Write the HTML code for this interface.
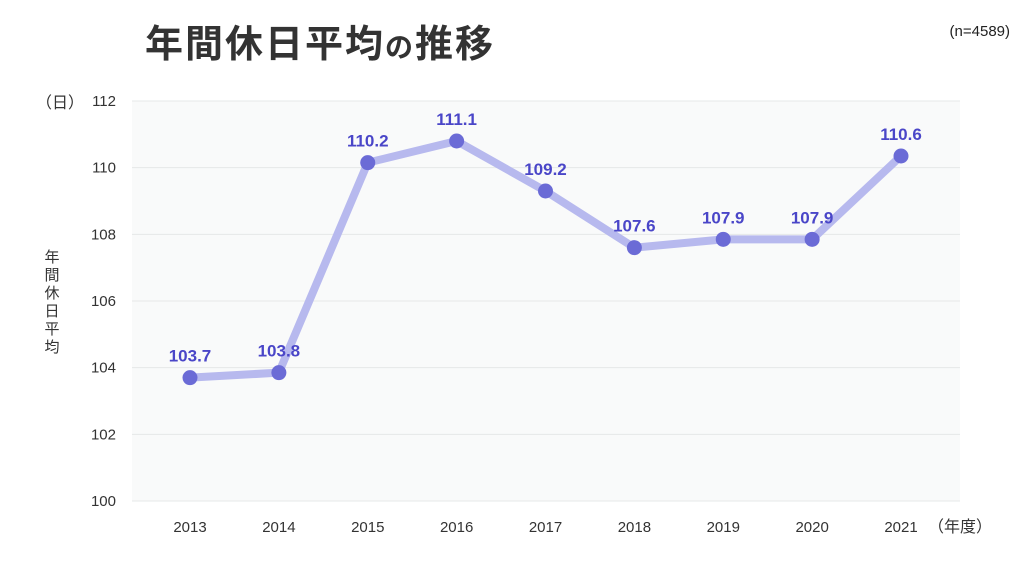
<!DOCTYPE html>
<html><head><meta charset="utf-8">
<style>
body{margin:0;background:#fff;}
svg text{font-family:"Liberation Sans","Noto Sans CJK JP",sans-serif;}
</style></head>
<body>
<svg id="chart" width="1030" height="560" viewBox="0 0 1030 560" xmlns="http://www.w3.org/2000/svg">
<text x="145" y="57" font-size="38" font-weight="bold" fill="#333" letter-spacing="2">年間休日平均<tspan font-size="28">の</tspan>推移</text>
<text x="1010" y="36" font-size="15" fill="#222" text-anchor="end">(n=4589)</text>
<rect x="132" y="101" width="828" height="400" fill="#f9fafa"/>
<text x="60" y="108" font-size="16" fill="#333" text-anchor="middle">（日）</text>
<text x="928" y="532" font-size="16" fill="#333">（年度）</text>
<g font-size="15" fill="#333" text-anchor="middle">
<text x="52" y="262">年</text><text x="52" y="280">間</text><text x="52" y="298">休</text><text x="52" y="316">日</text><text x="52" y="334">平</text><text x="52" y="352">均</text>
</g>
<g id="grid"></g><g id="xticks"></g><g id="series"></g>
</svg>
<script>
const years = ['2013','2014','2015','2016','2017','2018','2019','2020','2021'];
const values = [103.7,103.85,110.15,110.8,109.3,107.6,107.85,107.85,110.35];
const valueLabels = ['103.7','103.8','110.2','111.1','109.2','107.6','107.9','107.9','110.6'];
const yTicks = [100,102,104,106,108,110,112];
const NS='http://www.w3.org/2000/svg';
const x0=190,x1=901,yTop=101,yBot=501,yMin=100,yMax=112;
function xs(i){return x0+(x1-x0)*i/(years.length-1);}
function ys(v){return yBot-(v-yMin)/(yMax-yMin)*(yBot-yTop);}
function mk(tag,attrs,parent){const e=document.createElementNS(NS,tag);for(const k in attrs)e.setAttribute(k,attrs[k]);parent.appendChild(e);return e;}
const grid=document.getElementById('grid');
yTicks.forEach(t=>{
  const l=mk('line',{x1:132,x2:960,y1:ys(t),y2:ys(t),stroke:'#e6e8e8','stroke-width':1},grid);
  
  
  const tx=mk('text',{x:116,y:ys(t)+5,'font-size':15,fill:'#333','text-anchor':'end'},grid);
  tx.textContent=t;
  
  
});
const xt=document.getElementById('xticks');
years.forEach((y,i)=>{
  const tx=mk('text',{x:xs(i),y:532,'font-size':15,fill:'#333','text-anchor':'middle'},xt);
  tx.textContent=y;
  
  
});
const s=document.getElementById('series');
const line=mk('polyline',{points:values.map((v,i)=>xs(i)+','+ys(v)).join(' '),fill:'none',stroke:'#b7b9ee','stroke-width':8,'stroke-linejoin':'round'},s);


values.forEach((v,i)=>{
  const c=mk('circle',{cx:xs(i),cy:ys(v),r:7.5,fill:'#6b6bd6'},s);
  
  
  const t=mk('text',{x:xs(i),y:ys(v)-16,'font-size':17,'font-weight':'bold',fill:'#4a46c8','text-anchor':'middle'},s);
  t.textContent=valueLabels[i];
  
  
});
</script>
</body></html>
